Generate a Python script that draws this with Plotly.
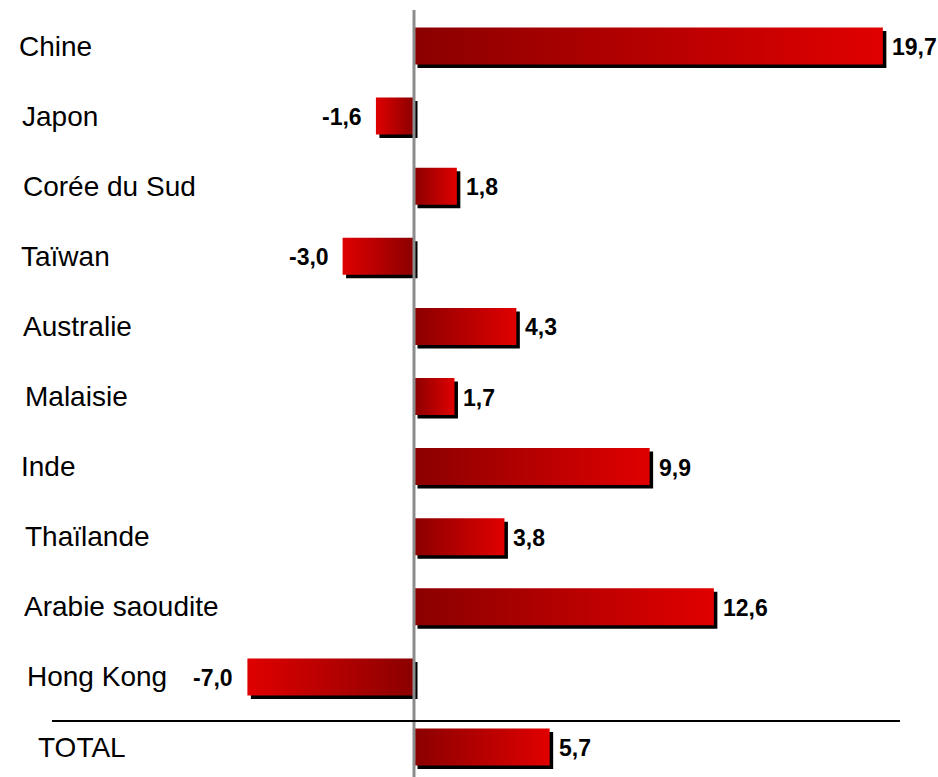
import plotly.graph_objects as go

# ---- data ----
categories = ["Chine", "Japon", "Corée du Sud", "Taïwan", "Australie", "Malaisie",
              "Inde", "Thaïlande", "Arabie saoudite", "Hong Kong", "TOTAL"]
values = [19.7, -1.6, 1.8, -3.0, 4.3, 1.7, 9.9, 3.8, 12.6, -7.0, 5.7]

# ---- layout / style ----
W, H = 938, 777
AXIS_PX = 414          # pixel position of zero line
PX_PER_UNIT = 23.8     # horizontal scale
ROW0_PX = 46           # centre of first row
ROW_PX = 70.1          # row spacing
BAR_HALF = 18.5 / ROW_PX
DX = 3.5 / PX_PER_UNIT
DY = 3.5 / ROW_PX
label_left_px = [17, 20, 21, 19, 21, 23, 19, 23, 22, 25, 36]

DARK, BRIGHT = "#8B0000", "#E00000"
FONT = "Liberation Sans Narrow, Arial Narrow, Liberation Sans, Arial, sans-serif"

xr = [-AXIS_PX / PX_PER_UNIT, (W - AXIS_PX) / PX_PER_UNIT]
yr = [(H - ROW0_PX) / ROW_PX, -ROW0_PX / ROW_PX]

fig = go.Figure()

# shadows
for i, v in enumerate(values):
    x0, x1 = min(0, v) + DX, max(0, v) + DX
    y0, y1 = i - BAR_HALF + DY, i + BAR_HALF + DY
    fig.add_trace(go.Scatter(x=[x0, x1, x1, x0, x0], y=[y0, y0, y1, y1, y0],
                             fill="toself", fillcolor="black", mode="none",
                             hoverinfo="skip", showlegend=False))
# bars with horizontal gradient
for i, v in enumerate(values):
    x0, x1 = min(0, v), max(0, v)
    y0, y1 = i - BAR_HALF, i + BAR_HALF
    cs = [[0, DARK], [1, BRIGHT]] if v >= 0 else [[0, BRIGHT], [1, DARK]]
    fig.add_trace(go.Scatter(x=[x0, x1, x1, x0, x0], y=[y0, y0, y1, y1, y0],
                             fill="toself", mode="none",
                             fillgradient=dict(type="horizontal", colorscale=cs),
                             hoverinfo="skip", showlegend=False, name=categories[i]))

# value labels
for i, v in enumerate(values):
    txt = f"{v:.1f}".replace(".", ",")
    pos = v >= 0
    fig.add_annotation(x=v, y=i, text=f"<b>{txt}</b>", showarrow=False,
                       xanchor="left" if pos else "right",
                       xshift=7 if pos else -12, yshift=-1,
                       font=dict(family=FONT, size=23, color="black"))

# category labels
for i, c in enumerate(categories):
    fig.add_annotation(x=label_left_px[i] / W, xref="paper", y=i, yref="y",
                       text=c, showarrow=False, xanchor="left", yshift=0,
                       font=dict(family=FONT, size=28, color="black"))

# zero axis line (gray) and separator line
fig.add_shape(type="line", xref="x", yref="paper", x0=0, x1=0, y0=0, y1=1 - 10 / H,
              line=dict(color="#8C8C8C", width=3))
sep_y = 9.63
fig.add_shape(type="line", xref="paper", yref="y", x0=52 / W, x1=900 / W,
              y0=sep_y, y1=sep_y, line=dict(color="black", width=2))

fig.update_layout(
    width=W, height=H,
    margin=dict(l=0, r=0, t=0, b=0),
    paper_bgcolor="white", plot_bgcolor="white",
    xaxis=dict(range=xr, visible=False, fixedrange=True),
    yaxis=dict(range=yr, visible=False, fixedrange=True),
    showlegend=False,
)

fig.write_html("out.html",
               config={"displayModeBar": False},
               post_script="document.body.style.margin='0';"
                           "document.body.style.overflow='hidden';")
